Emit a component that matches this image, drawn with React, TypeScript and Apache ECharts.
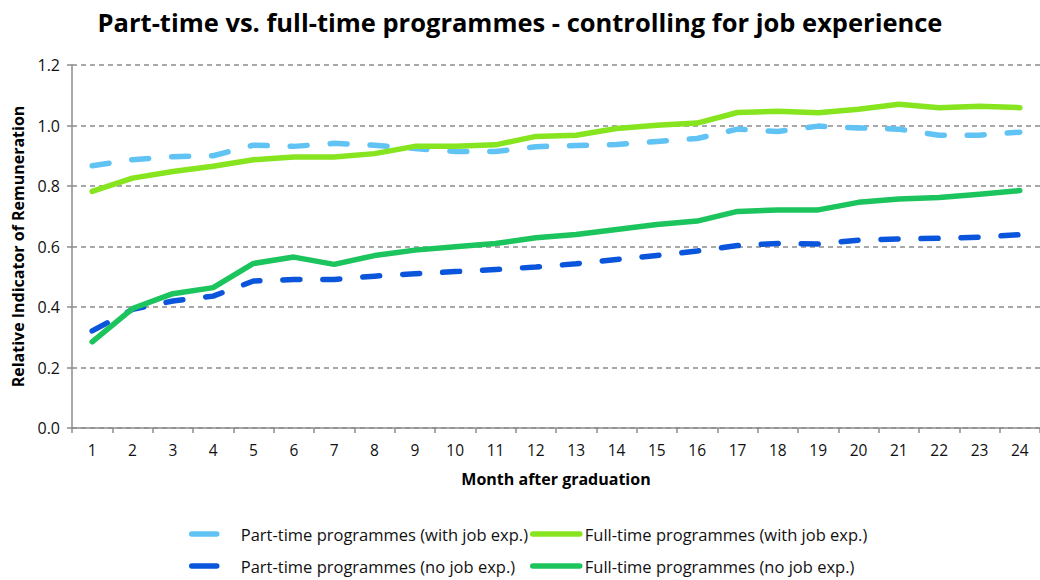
import React, { useEffect, useRef } from "react";
import * as echarts from "echarts";

const months = ["1","2","3","4","5","6","7","8","9","10","11","12","13","14","15","16","17","18","19","20","21","22","23","24"];

const partTimeWithExp = [0.867,0.887,0.897,0.900,0.935,0.931,0.941,0.935,0.924,0.914,0.914,0.930,0.934,0.937,0.947,0.957,0.988,0.980,0.998,0.992,0.988,0.968,0.968,0.978];
const fullTimeWithExp = [0.782,0.826,0.848,0.865,0.887,0.896,0.896,0.907,0.931,0.931,0.936,0.964,0.968,0.990,1.001,1.008,1.043,1.047,1.042,1.054,1.070,1.059,1.064,1.059];
const partTimeNoExp = [0.321,0.392,0.420,0.436,0.486,0.491,0.491,0.502,0.510,0.517,0.524,0.532,0.543,0.557,0.570,0.585,0.603,0.610,0.608,0.621,0.625,0.627,0.631,0.639];
const fullTimeNoExp = [0.285,0.395,0.444,0.464,0.544,0.565,0.541,0.570,0.588,0.599,0.610,0.629,0.640,0.656,0.673,0.684,0.716,0.721,0.721,0.746,0.757,0.762,0.773,0.785];

const names = [
  "Part-time programmes (with job exp.)",
  "Full-time programmes (with job exp.)",
  "Part-time programmes (no job exp.)",
  "Full-time programmes (no job exp.)",
];

const FONT = "'Open Sans', sans-serif";

function legendItem(name: string, left: number, top: number, width: number, dashed: boolean) {
  return {
    left,
    top,
    padding: 2,
    itemWidth: width,
    itemHeight: 14,
    itemStyle: { opacity: 0 },
    lineStyle: dashed
      ? { type: [25, 40], cap: "round", width: 5.5 }
      : { cap: "round", width: 5.5 },
    textStyle: { fontFamily: FONT, fontSize: 16.5, color: "#111", lineHeight: 18 },
    data: [name],
  };
}

export default function App() {
  const ref = useRef<HTMLDivElement>(null);
  useEffect(() => {
    if (!ref.current) return;
    const chart = echarts.init(ref.current, undefined, { renderer: "svg" });
    const dash = [17, 23];
    const lw = 5.5;
    const option: any = {
      animation: false,
      backgroundColor: "#ffffff",
      title: {
        text: "Part-time vs. full-time programmes - controlling for job experience",
        left: "center",
        top: 4,
        textStyle: { fontFamily: FONT, fontSize: 25.5, fontWeight: "bold", color: "#000" },
      },
      grid: { left: 72, right: -6, top: 65, bottom: 152 },
      legend: [
        legendItem(names[0], 187, 523, 44, true),
        legendItem(names[2], 187, 555, 44, true),
        legendItem(names[1], 528, 523, 47, false),
        legendItem(names[3], 528, 555, 47, false),
      ],
      xAxis: {
        type: "category",
        data: months,
        boundaryGap: true,
        name: "Month after graduation",
        nameLocation: "middle",
        nameGap: 43,
        nameTextStyle: { fontFamily: FONT, fontSize: 16, fontWeight: "bold", color: "#000" },
        axisLine: { lineStyle: { color: "#8c8c8c", width: 1.5 } },
        axisTick: { show: true, length: 5, lineStyle: { color: "#8c8c8c", width: 1.5 } },
        axisLabel: { fontFamily: FONT, fontSize: 15.5, color: "#111", margin: 14 },
        splitLine: { show: false },
      },
      yAxis: {
        type: "value",
        min: 0,
        max: 1.2,
        interval: 0.2,
        name: "Relative Indicator of Remuneration",
        nameLocation: "middle",
        nameRotate: 90,
        nameGap: 46,
        nameTextStyle: { fontFamily: FONT, fontSize: 16, fontWeight: "bold", color: "#000" },
        axisLine: { show: true, lineStyle: { color: "#8c8c8c", width: 1.5 } },
        axisTick: { show: true, length: 5, lineStyle: { color: "#8c8c8c", width: 1.5 } },
        axisLabel: {
          fontFamily: FONT,
          fontSize: 16,
          color: "#111",
          margin: 12,
          formatter: (v: number) => v.toFixed(1),
        },
        splitLine: { show: true, lineStyle: { color: "#8c8c8c", width: 1.5, type: [5, 4] } },
      },
      series: [
        {
          name: names[0],
          type: "line",
          data: partTimeWithExp,
          symbol: "none",
          z: 2,
          itemStyle: { color: "#61C3F4" },
          lineStyle: { color: "#61C3F4", width: lw, type: dash, cap: "round", join: "round" },
        },
        {
          name: names[2],
          type: "line",
          data: partTimeNoExp,
          symbol: "none",
          z: 2,
          itemStyle: { color: "#0B55DC" },
          lineStyle: { color: "#0B55DC", width: lw, type: dash, cap: "round", join: "round" },
        },
        {
          name: names[1],
          type: "line",
          data: fullTimeWithExp,
          symbol: "none",
          z: 3,
          itemStyle: { color: "#86E51F" },
          lineStyle: { color: "#86E51F", width: lw, cap: "round", join: "round" },
        },
        {
          name: names[3],
          type: "line",
          data: fullTimeNoExp,
          symbol: "none",
          z: 3,
          itemStyle: { color: "#1CC45E" },
          lineStyle: { color: "#1CC45E", width: lw, cap: "round", join: "round" },
        },
      ],
    };
    chart.setOption(option);
    return () => chart.dispose();
  }, []);
  return (
    <div
      ref={ref}
      style={{ position: "absolute", left: 0, top: 0, width: 1040, height: 580, background: "#fff" }}
    />
  );
}
